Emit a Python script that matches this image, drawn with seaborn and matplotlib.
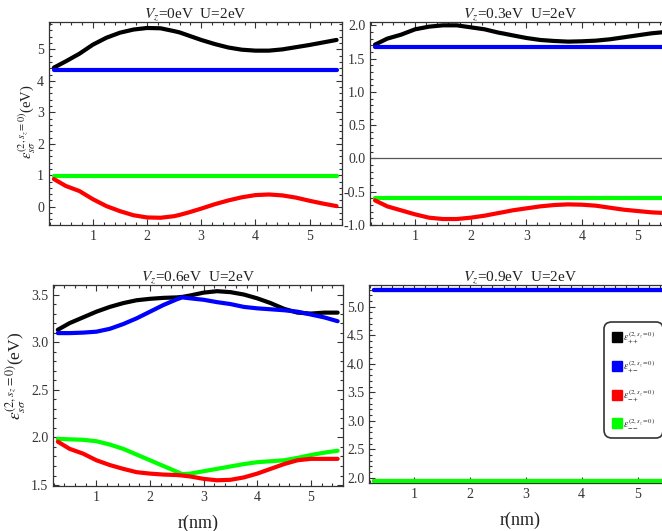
import numpy as np
import pandas as pd
import matplotlib
matplotlib.use("Agg")
import matplotlib.pyplot as plt
from matplotlib.lines import Line2D
from matplotlib.ticker import MultipleLocator
import seaborn as sns

# ---------------- data ----------------
r = [0.28, 0.5, 0.75, 1.0, 1.25, 1.5, 1.75, 2.0, 2.25, 2.5, 2.6, 2.75, 3.0,
     3.25, 3.5, 3.75, 4.0, 4.25, 4.5, 4.75, 5.0, 5.25, 5.5]

# Vz = 0 eV
vz0_pp = [4.42, 4.62, 4.86, 5.15, 5.37, 5.53, 5.63, 5.68, 5.67, 5.58, 5.54, 5.45, 5.30,
          5.17, 5.06, 4.99, 4.96, 4.96, 5.00, 5.07, 5.14, 5.22, 5.30]
vz0_pm = [4.34] * len(r)
vz0_mp = [0.88, 0.66, 0.50, 0.24, 0.02, -0.14, -0.27, -0.34, -0.35, -0.30, -0.26, -0.19, -0.06,
          0.08, 0.20, 0.30, 0.37, 0.39, 0.36, 0.29, 0.19, 0.10, 0.02]
vz0_mm = [0.98] * len(r)

# Vz = 0.3 eV
vz3_pp = [1.71, 1.80, 1.86, 1.94, 1.98, 2.00, 2.00, 1.97, 1.94, 1.89, 1.875, 1.85, 1.81,
          1.78, 1.765, 1.755, 1.76, 1.77, 1.79, 1.82, 1.85, 1.88, 1.90]
vz3_pm = [1.67] * len(r)
vz3_mp = [-0.63, -0.72, -0.78, -0.84, -0.89, -0.91, -0.91, -0.89, -0.86, -0.82, -0.805, -0.78, -0.75,
          -0.72, -0.70, -0.69, -0.695, -0.71, -0.74, -0.77, -0.79, -0.81, -0.82]
vz3_mm = [-0.59] * len(r)

# Vz = 0.6 eV
vz6_pp = [3.13, 3.20, 3.26, 3.32, 3.37, 3.41, 3.44, 3.455, 3.465, 3.47, 3.475, 3.49, 3.52,
          3.535, 3.525, 3.50, 3.46, 3.41, 3.35, 3.31, 3.30, 3.31, 3.31]
vz6_pm = [3.095, 3.095, 3.10, 3.11, 3.14, 3.19, 3.25, 3.32, 3.39, 3.45, 3.47, 3.46, 3.445,
          3.42, 3.40, 3.37, 3.355, 3.345, 3.335, 3.32, 3.29, 3.26, 3.22]
vz6_mp = [1.955, 1.88, 1.83, 1.76, 1.71, 1.67, 1.635, 1.62, 1.61, 1.605, 1.60, 1.59, 1.565,
          1.55, 1.555, 1.58, 1.62, 1.67, 1.72, 1.76, 1.775, 1.775, 1.775]
vz6_mm = [1.985, 1.98, 1.975, 1.96, 1.925, 1.88, 1.82, 1.76, 1.70, 1.64, 1.615, 1.62, 1.645,
          1.67, 1.695, 1.72, 1.74, 1.75, 1.76, 1.785, 1.815, 1.84, 1.86]

# Vz = 0.9 eV
vz9_pp = [5.29] * len(r)
vz9_pm = [5.29] * len(r)
vz9_mp = [1.95] * len(r)
vz9_mm = [1.95] * len(r)

titles = [r"$V_z$=0eV  U=2eV", r"$V_z$=0.3eV  U=2eV",
          r"$V_z$=0.6eV  U=2eV", r"$V_z$=0.9eV  U=2eV"]
series = ["pp", "pm", "mp", "mm"]
legend_labels = [r"$\epsilon_{++}^{(2,s_z=0)}$", r"$\epsilon_{+-}^{(2,s_z=0)}$",
                 r"$\epsilon_{-+}^{(2,s_z=0)}$", r"$\epsilon_{--}^{(2,s_z=0)}$"]
ylabel = r"$\epsilon_{s\sigma}^{(2,s_z=0)}$(eV)"
xlabel = "r(nm)"

panels = [
    dict(vals=[vz0_pp, vz0_pm, vz0_mp, vz0_mm], ylim=(-0.58, 5.87), major=1, minor=0.2, fmt="%d"),
    dict(vals=[vz3_pp, vz3_pm, vz3_mp, vz3_mm], ylim=(-1.0, 2.05), major=0.5, minor=0.1, fmt="%.1f"),
    dict(vals=[vz6_pp, vz6_pm, vz6_mp, vz6_mm], ylim=(1.49, 3.6), major=0.5, minor=0.1, fmt="%.1f"),
    dict(vals=[vz9_pp, vz9_pm, vz9_mp, vz9_mm], ylim=(1.91, 5.38), major=0.5, minor=0.1, fmt="%.1f"),
]

palette = {"pp": "#000000", "pm": "#0000ff", "mp": "#ff0000", "mm": "#00ff00"}

# ---------------- style ----------------
sns.set_style("ticks")
plt.rcParams["font.family"] = ["Liberation Serif", "DejaVu Serif"]
plt.rcParams["mathtext.fontset"] = "stix"

fig = plt.figure(figsize=(6.62, 5.31), dpi=100)
W, H = 662, 531
boxes = [(49, 342, 22, 225), (370, 671, 22, 225), (53, 343, 285, 486), (369, 671, 285, 483)]

axes = []
for (l, rr, t, b) in boxes:
    axes.append(fig.add_axes([l / W, 1 - b / H, (rr - l) / W, (b - t) / H]))

order_draw = ["pp", "pm", "mm", "mp"]
for i, (ax, p) in enumerate(zip(axes, panels)):
    rows = []
    for s, v in zip(series, p["vals"]):
        for x, y in zip(r, v):
            rows.append({"r": x, "e": y, "s": s})
    df = pd.DataFrame(rows)
    if i == 1:
        ax.axhline(0, color="#555555", lw=0.9, zorder=1)
    draw = order_draw if i != 3 else ["pp", "mp", "pm", "mm"]
    for s in draw:
        sns.lineplot(data=df[df.s == s], x="r", y="e", color=palette[s], lw=3.0,
                     ax=ax, legend=False, zorder=3)
    ax.set_xlim(0.19, 5.6)
    ax.set_ylim(*p["ylim"])
    ax.xaxis.set_major_locator(MultipleLocator(1))
    ax.xaxis.set_minor_locator(MultipleLocator(0.2))
    ax.yaxis.set_major_locator(MultipleLocator(p["major"]))
    ax.yaxis.set_minor_locator(MultipleLocator(p["minor"]))
    ax.yaxis.set_major_formatter(matplotlib.ticker.FormatStrFormatter(p["fmt"]))
    ax.tick_params(which="both", direction="in", top=True, right=True,
                   labelsize=10, colors="#333333", width=0.8)
    ax.tick_params(which="major", length=4.5)
    ax.tick_params(which="minor", length=2.2)
    for sp in ax.spines.values():
        sp.set_color("#333333")
        sp.set_linewidth(0.9)
    ax.set_title(titles[i], fontsize=11, pad=2, color="#222222")
    ax.set_xlabel(xlabel if i >= 2 else "", fontsize=13, color="#222222", labelpad=8)

axes[0].set_ylabel(ylabel, fontsize=10.5, color="#222222")
axes[0].yaxis.set_label_coords(-0.038, 0.51)
axes[2].set_ylabel(ylabel, fontsize=12.5, color="#222222")
axes[2].yaxis.set_label_coords(-0.085, 0.55)
axes[1].set_ylabel("")
axes[3].set_ylabel("")

handles = [Line2D([], [], marker="s", ls="", markersize=7, color=palette[s]) for s in series]
leg = axes[3].legend(handles, legend_labels, loc="upper left", bbox_to_anchor=(0.778, 0.815),
                     fontsize=7, frameon=True, fancybox=True, labelspacing=1.3,
                     handletextpad=0.2, borderpad=0.8, handlelength=1.0, borderaxespad=0)
leg.get_frame().set_edgecolor("black")
leg.get_frame().set_linewidth(1.2)
leg.get_frame().set_boxstyle("round,pad=0,rounding_size=0.8")

fig.savefig("out.png", dpi=100)
